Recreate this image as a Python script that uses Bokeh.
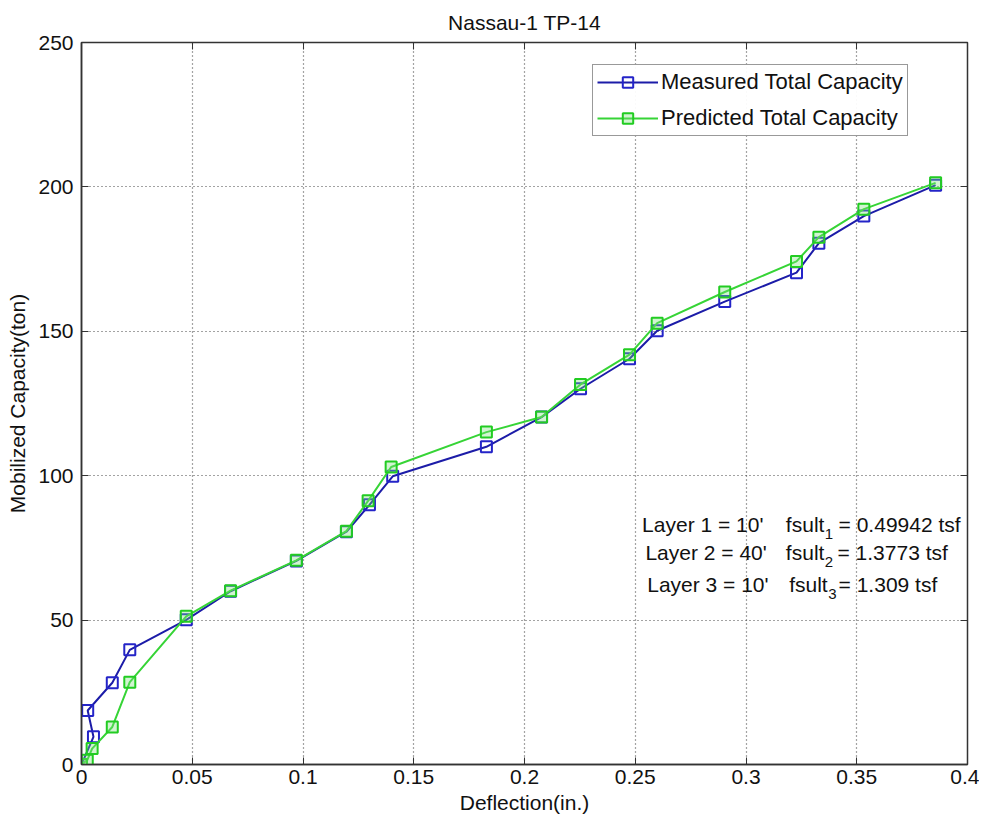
from bokeh.plotting import figure
from bokeh.models import Range1d, FixedTicker, LinearAxis, Label, Legend
from bokeh.embed import file_html
from bokeh.resources import INLINE

# ---- data ----
measured_x = [0, 0.0054, 0.0028, 0.0139, 0.0218, 0.0473, 0.0673, 0.0970, 0.1196, 0.1300,
              0.1405, 0.1828, 0.2077, 0.2253, 0.2474, 0.2599, 0.2904, 0.3228, 0.3329, 0.3532, 0.3856]
measured_y = [0, 9.6, 18.7, 28.3, 39.7, 50.1, 60.0, 70.5, 80.6, 89.9,
              99.8, 110.0, 120.3, 130.1, 140.5, 150.2, 160.3, 170.3, 180.5, 189.9, 200.6]
predicted_x = [0, 0.0026, 0.0048, 0.0139, 0.0218, 0.0473, 0.0673, 0.0970, 0.1196, 0.1294,
               0.1398, 0.1828, 0.2077, 0.2253, 0.2474, 0.2599, 0.2904, 0.3228, 0.3329, 0.3532, 0.3856]
predicted_y = [0, 1.5, 5.5, 13.0, 28.5, 51.3, 60.2, 70.7, 80.8, 91.3,
               103.0, 115.1, 120.3, 131.6, 141.9, 152.8, 163.6, 174.2, 182.6, 192.3, 201.4]

x_ticks = [0, 0.05, 0.1, 0.15, 0.2, 0.25, 0.3, 0.35, 0.4]
x_tick_labels = ["0", "0.05", "0.1", "0.15", "0.2", "0.25", "0.3", "0.35", "0.4"]
y_ticks = [0, 50, 100, 150, 200, 250]
y_tick_labels = ["0", "50", "100", "150", "200", "250"]

layer_texts = ["Layer 1 = 10'", "Layer 2 = 40'", "Layer 3 = 10'"]
fsult_subs = ["1", "2", "3"]
fsult_values = ["= 0.49942 tsf", "= 1.3773 tsf", "= 1.309 tsf"]

FONT = "Liberation Sans"
BLUE = "#1c1ca8"
GREEN = "#36d436"
FS = "21px"

p = figure(width=979, height=816, output_backend="svg", toolbar_location=None,
           x_range=Range1d(0, 0.4), y_range=Range1d(0, 250),
           min_border_left=81, min_border_right=12, min_border_top=42, min_border_bottom=50,
           background_fill_color="white", border_fill_color="white")

p.title.text = "Nassau-1 TP-14"
p.title.align = "center"
p.title.text_font = FONT
p.title.text_font_size = FS
p.title.text_font_style = "normal"
p.title.text_color = "#111111"
p.title.standoff = 17

p.outline_line_color = "#333333"
p.outline_line_width = 1.5

for ax in p.xaxis:
    ax.ticker = FixedTicker(ticks=x_ticks)
    ax.major_label_overrides = {t: l for t, l in zip(x_ticks, x_tick_labels)}
    ax.axis_label = "Deflection(in.)"
for ax in p.yaxis:
    ax.ticker = FixedTicker(ticks=y_ticks)
    ax.major_label_overrides = {t: l for t, l in zip(y_ticks, y_tick_labels)}
    ax.axis_label = "Mobilized Capacity(ton)"

for ax in list(p.xaxis) + list(p.yaxis):
    ax.axis_line_color = "#333333"
    ax.axis_line_width = 1.5
    ax.major_tick_in = 7
    ax.major_tick_out = 0
    ax.minor_tick_line_color = None
    ax.major_tick_line_color = "#333333"
    ax.major_label_text_font = FONT
    ax.major_label_text_font_size = FS
    ax.major_label_text_color = "#111111"
    ax.axis_label_text_font = FONT
    ax.axis_label_text_font_size = FS
    ax.axis_label_text_font_style = "normal"
    ax.axis_label_text_color = "#111111"
p.xaxis.major_label_standoff = 5
p.xaxis.axis_label_standoff = 4
p.yaxis.major_label_standoff = 8
p.yaxis.axis_label_standoff = 6

# mirrored ticks on top and right (box style), without labels
top_ax = LinearAxis(ticker=FixedTicker(ticks=x_ticks),
                    major_label_overrides={t: "" for t in x_ticks},
                    major_label_text_font_size="10px",
                    major_label_standoff=0, axis_line_color=None, major_tick_in=7,
                    major_tick_out=0, minor_tick_line_color=None, major_tick_line_color="#333333")
right_ax = LinearAxis(ticker=FixedTicker(ticks=y_ticks),
                      major_label_overrides={t: "" for t in y_ticks},
                      major_label_text_font_size="10px",
                      major_label_standoff=0, axis_line_color=None, major_tick_in=7,
                      major_tick_out=0, minor_tick_line_color=None, major_tick_line_color="#333333")
p.add_layout(top_ax, "above")
p.add_layout(right_ax, "right")

p.grid.grid_line_color = "#333333"
p.grid.grid_line_dash = "1 3"
p.grid.grid_line_width = 1.2
p.grid.grid_line_alpha = 0.9

m_line = p.line(measured_x, measured_y, line_color=BLUE, line_width=2)
m_pts = p.scatter(measured_x, measured_y, marker="square", size=11, line_color="#2424c8",
                  line_width=2, fill_color=None)
p_line = p.line(predicted_x, predicted_y, line_color=GREEN, line_width=2)
p_pts = p.scatter(predicted_x, predicted_y, marker="square", size=11, line_color="#22cc22",
                  line_width=2, fill_color="#7be07b", fill_alpha=0.35)

legend = Legend(items=[("Measured Total Capacity", [m_line, m_pts]),
                       ("Predicted Total Capacity", [p_line, p_pts])],
                location=(511, 628))
legend.label_text_font = FONT
legend.label_text_font_size = "22px"
legend.label_text_color = "#111111"
legend.glyph_width = 61
legend.glyph_height = 26
legend.label_height = 26
legend.spacing = 10
legend.padding = 4
legend.margin = 0
legend.label_standoff = 3
legend.border_line_color = "#333333"
legend.border_line_width = 1
legend.background_fill_color = "white"
p.add_layout(legend)

# annotation text block
line_y = [83.1, 73.4, 62.4]
layer_x = [0.2531, 0.2546, 0.2554]
fsult_x = [0.3180, 0.3180, 0.3195]
sub_x = [0.3356, 0.3356, 0.3371]
val_x = [0.3418, 0.3413, 0.3418]
for i in range(3):
    common = dict(text_font=FONT, text_color="#111111", text_baseline="alphabetic")
    p.add_layout(Label(x=layer_x[i], y=line_y[i], text=layer_texts[i], text_font_size=FS, **common))
    p.add_layout(Label(x=fsult_x[i], y=line_y[i], text="fsult", text_font_size=FS, **common))
    p.add_layout(Label(x=sub_x[i], y=line_y[i] - 3.4, text=fsult_subs[i], text_font_size="15px", **common))
    p.add_layout(Label(x=val_x[i], y=line_y[i], text=fsult_values[i], text_font_size=FS, **common))

open("out.html", "w").write(file_html(p, INLINE))
